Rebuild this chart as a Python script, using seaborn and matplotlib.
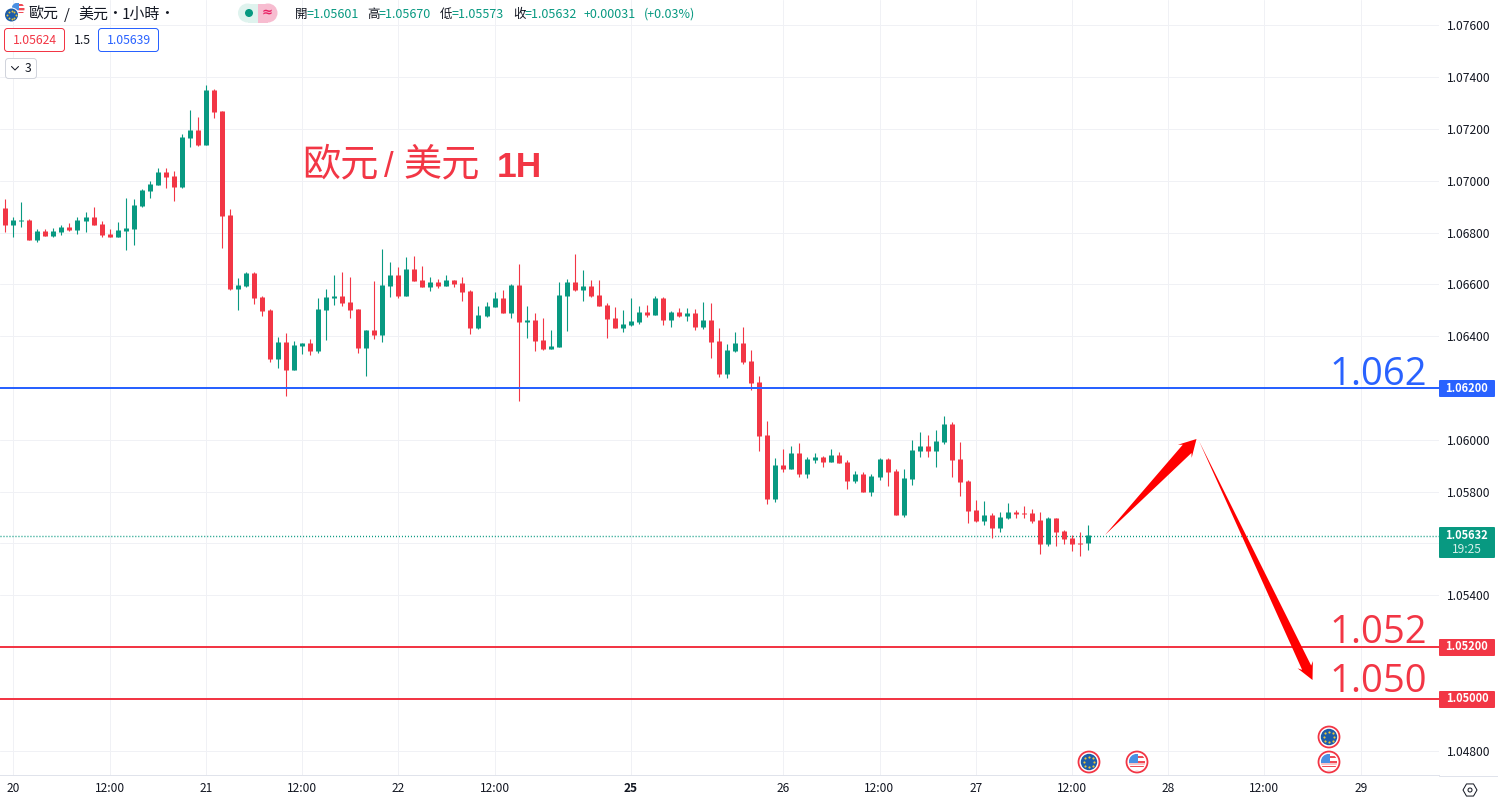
import numpy as np
import pandas as pd
import seaborn as sns
import matplotlib
matplotlib.use("Agg")
import matplotlib.pyplot as plt
from matplotlib.patches import Circle, FancyBboxPatch, Polygon, Rectangle, RegularPolygon

# ---------- data ----------
opens = [1.06893,1.06828,1.06843,1.06847,1.06770,1.06804,1.06785,1.06801,1.06820,1.06808,
1.06843,1.06858,1.06831,1.06793,1.06781,1.06804,1.06812,1.06901,1.06959,1.06982,
1.07032,1.07017,1.06974,1.07163,1.07194,1.07136,1.07348,1.07267,1.06866,1.06581,
1.06592,1.06644,1.06551,1.06501,1.06312,1.06377,1.06269,1.06362,1.06374,1.06343,
1.06501,1.06547,1.06555,1.06532,1.06505,1.06354,1.06424,1.06405,1.06594,1.06636,
1.06555,1.06659,1.06617,1.06590,1.06609,1.06594,1.06617,1.06605,1.06574,1.06431,
1.06478,1.06512,1.06547,1.06489,1.06597,1.06455,1.06462,1.06385,1.06350,1.06358,
1.06555,1.06609,1.06578,1.06594,1.06559,1.06520,1.06470,1.06431,1.06443,1.06455,
1.06493,1.06482,1.06547,1.06462,1.06493,1.06478,1.06489,1.06435,1.06462,1.06381,
1.06254,1.06343,1.06374,1.06304,1.06223,1.06019,1.05772,1.05903,1.05887,1.05949,
1.05868,1.05922,1.05934,1.05915,1.05942,1.05915,1.05841,1.05868,1.05799,1.05857,
1.05926,1.05880,1.05710,1.05849,1.05957,1.05976,1.05957,1.05992,1.06061,1.05926,
1.05841,1.05729,1.05687,1.05710,1.05660,1.05698,1.05722,1.05718,1.05718,1.05691,
1.05598,1.05698,1.05648,1.05621,1.05602,1.05601]
highs = [1.06928,1.06858,1.06916,1.06851,1.06812,1.06812,1.06816,1.06828,1.06835,1.06858,
1.06878,1.06897,1.06843,1.06812,1.06839,1.06932,1.06928,1.06966,1.06997,1.07047,
1.07047,1.07036,1.07179,1.07271,1.07244,1.07368,1.07352,1.07267,1.06889,1.06623,
1.06646,1.06648,1.06555,1.06505,1.06397,1.06412,1.06381,1.06374,1.06389,1.06547,
1.06582,1.06636,1.06648,1.06628,1.06505,1.06424,1.06613,1.06736,1.06686,1.06667,
1.06705,1.06709,1.06671,1.06628,1.06621,1.06636,1.06617,1.06628,1.06578,1.06516,
1.06532,1.06570,1.06578,1.06601,1.06678,1.06516,1.06489,1.06470,1.06424,1.06609,
1.06621,1.06717,1.06655,1.06617,1.06617,1.06528,1.06512,1.06501,1.06547,1.06516,
1.06520,1.06555,1.06551,1.06497,1.06509,1.06509,1.06505,1.06532,1.06528,1.06431,
1.06370,1.06416,1.06435,1.06347,1.06246,1.06073,1.05930,1.05965,1.05976,1.05988,
1.05934,1.05949,1.05938,1.05965,1.05953,1.05922,1.05880,1.05876,1.05868,1.05930,
1.05930,1.05887,1.05887,1.05999,1.06030,1.06019,1.06038,1.06092,1.06069,1.05992,
1.05845,1.05768,1.05764,1.05718,1.05722,1.05756,1.05729,1.05745,1.05733,1.05722,
1.05702,1.05698,1.05652,1.05633,1.05644,1.05670]
lows = [1.06801,1.06781,1.06820,1.06770,1.06762,1.06785,1.06781,1.06789,1.06804,1.06793,
1.06801,1.06828,1.06781,1.06781,1.06781,1.06731,1.06750,1.06897,1.06932,1.06982,
1.06970,1.06920,1.06970,1.07129,1.07132,1.07136,1.07240,1.06739,1.06577,1.06500,
1.06588,1.06524,1.06478,1.06300,1.06277,1.06169,1.06269,1.06331,1.06327,1.06335,
1.06385,1.06520,1.06516,1.06470,1.06335,1.06246,1.06389,1.06377,1.06551,1.06547,
1.06555,1.06613,1.06590,1.06574,1.06586,1.06594,1.06590,1.06536,1.06408,1.06428,
1.06474,1.06512,1.06489,1.06470,1.06150,1.06393,1.06343,1.06347,1.06350,1.06358,
1.06420,1.06574,1.06536,1.06551,1.06516,1.06393,1.06431,1.06416,1.06439,1.06447,
1.06474,1.06482,1.06443,1.06435,1.06474,1.06458,1.06424,1.06428,1.06316,1.06242,
1.06239,1.06339,1.06293,1.06192,1.05957,1.05752,1.05760,1.05876,1.05887,1.05857,
1.05853,1.05911,1.05895,1.05915,1.05911,1.05810,1.05834,1.05799,1.05783,1.05845,
1.05822,1.05710,1.05702,1.05826,1.05934,1.05934,1.05895,1.05984,1.05857,1.05783,
1.05679,1.05683,1.05671,1.05621,1.05644,1.05695,1.05698,1.05698,1.05679,1.05560,
1.05590,1.05590,1.05598,1.05571,1.05552,1.05573]
closes = [1.06828,1.06847,1.06847,1.06770,1.06804,1.06785,1.06804,1.06820,1.06808,1.06847,
1.06858,1.06828,1.06789,1.06781,1.06808,1.06816,1.06905,1.06963,1.06986,1.07032,
1.07013,1.06974,1.07167,1.07194,1.07136,1.07348,1.07264,1.06862,1.06581,1.06596,
1.06642,1.06547,1.06497,1.06312,1.06377,1.06269,1.06366,1.06374,1.06343,1.06505,
1.06551,1.06555,1.06528,1.06501,1.06354,1.06424,1.06405,1.06597,1.06636,1.06555,
1.06659,1.06613,1.06590,1.06609,1.06594,1.06617,1.06601,1.06570,1.06431,1.06482,
1.06516,1.06547,1.06489,1.06597,1.06455,1.06462,1.06381,1.06350,1.06362,1.06559,
1.06609,1.06578,1.06594,1.06555,1.06516,1.06466,1.06431,1.06447,1.06458,1.06493,
1.06482,1.06547,1.06462,1.06493,1.06478,1.06489,1.06435,1.06462,1.06377,1.06254,
1.06347,1.06374,1.06300,1.06219,1.06015,1.05772,1.05903,1.05887,1.05949,1.05868,
1.05926,1.05934,1.05915,1.05942,1.05911,1.05841,1.05868,1.05799,1.05860,1.05926,
1.05876,1.05710,1.05853,1.05961,1.05976,1.05957,1.05996,1.06061,1.05922,1.05837,
1.05725,1.05687,1.05710,1.05660,1.05702,1.05722,1.05714,1.05714,1.05687,1.05598,
1.05698,1.05644,1.05617,1.05598,1.05598,1.05632]

price_ticks = [1.048,1.050,1.052,1.054,1.056,1.058,1.060,1.062,1.064,1.066,1.068,1.070,1.072,1.074,1.076]
tagged_ticks = [1.050, 1.052, 1.056, 1.062]
time_tick_pos = [1,13,25,37,49,61,78,97,109,121,133,145,157,169]
time_tick_lab = ["20","12:00","21","12:00","22","12:00","25","26","12:00","27","12:00","28","12:00","29"]
level_blue = [1.062]
levels_red = [1.052, 1.050]
last_price = 1.05632

GREEN, RED, BLUE = "#089981", "#F23645", "#2962FF"
TXT, GRID = "#131722", "#f0f1f5"
CJK = ["Noto Sans CJK TC", "DejaVu Sans"]

sns.set_theme(style="white")
plt.rcParams["font.family"] = CJK

W, H = 1498, 802
PX = 0.72
fig = plt.figure(figsize=(W/100, H/100), dpi=100, facecolor="white")
ax = fig.add_axes([0, (H-775)/H, 1439/W, 775/H])

n = len(opens)
idx = np.arange(n)
direction = ["up" if c >= o else "down" for o, c in zip(opens, closes)]
wicks = pd.DataFrame({"candle": np.r_[idx, idx], "price": highs + lows, "dir": direction*2, "x": np.r_[idx, idx]})
bodies = pd.DataFrame({"candle": np.r_[idx, idx], "price": opens + closes, "dir": direction*2, "x": np.r_[idx, idx]})
pal = {"up": GREEN, "down": RED}
sns.lineplot(data=wicks, x="x", y="price", hue="dir", units="candle", estimator=None, sort=False,
             palette=pal, linewidth=1.1*PX, solid_capstyle="butt", legend=False, ax=ax, zorder=3)
sns.lineplot(data=bodies, x="x", y="price", hue="dir", units="candle", estimator=None, sort=False,
             palette=pal, linewidth=5*PX, solid_capstyle="butt", legend=False, ax=ax, zorder=4)

for v in level_blue:
    ax.axhline(v, color=BLUE, lw=2*PX, zorder=5)
for v in levels_red:
    ax.axhline(v, color=RED, lw=2*PX, zorder=5)
ax.axhline(last_price-0.00002, color=GREEN, lw=1.4*PX, ls=(0, (0.72, 1.42)), zorder=2)

ax.set_xlim(-0.661, 178.76)
ax.set_ylim(1.062-387/51.83*0.002, 1.062+388/51.83*0.002)
ax.set_xticks(time_tick_pos, time_tick_lab)
ax.set_yticks(price_ticks, ["" if p in tagged_ticks else f"{p:.5f}" for p in price_ticks])
ax.yaxis.tick_right()
ax.tick_params(axis="x", length=0, pad=4.8, labelsize=8.6, labelcolor=TXT)
ax.tick_params(axis="y", length=0, pad=5.5, labelsize=8.7, labelcolor=TXT)
for t in ax.get_xticklabels():
    if t.get_text() == "25":
        t.set_fontweight("bold")
ax.grid(True, color=GRID, lw=1*PX, zorder=0)
ax.set_axisbelow(True)
ax.set_xlabel(""); ax.set_ylabel("")
for s in ["top", "left", "right"]:
    ax.spines[s].set_visible(False)
ax.spines["bottom"].set_color("#e0e3eb")
ax.spines["bottom"].set_linewidth(1*PX)

# ---------- overlay in pixel coordinates ----------
ov = fig.add_axes([0, 0, 1, 1], zorder=10)
ov.set_xlim(0, W); ov.set_ylim(H, 0); ov.axis("off")
ov.plot([1439, W], [775.5, 775.5], color="#e0e3eb", lw=1*PX)

def txt(x, y, s, size=9, color=TXT, ha="left", va="center", weight="normal", fam=None, **k):
    return ov.text(x, y, s, fontsize=size, color=color, ha=ha, va=va, fontweight=weight,
                   family=fam if fam else CJK, **k)

def box(x0, y0, x1, y1, fc="none", ec="none", lw=1, r=3):
    p = FancyBboxPatch((x0+r, y0+r), x1-x0-2*r, y1-y0-2*r, boxstyle=f"round,pad={r},rounding_size={r}",
                       fc=fc, ec=ec, lw=lw*PX, mutation_aspect=1)
    ov.add_patch(p)
    return p

def arrow(tail, tip, head_len, head_w, neck_w):
    tail, tip = np.array(tail, float), np.array(tip, float)
    u = (tip-tail)/np.hypot(*(tip-tail))
    nrm = np.array([-u[1], u[0]])
    neck = tip-u*head_len*0.8
    wing = tip-u*head_len
    pts = [tail, neck+nrm*neck_w/2, wing+nrm*head_w/2, tip, wing-nrm*head_w/2, neck-nrm*neck_w/2]
    ov.add_patch(Polygon(pts, closed=True, fc="#FF0000", ec="none", zorder=6))

arrow((1105, 535), (1196.5, 439), 17, 19, 12)
arrow((1199, 441), (1312.5, 680), 17, 17, 10)

# big annotations
BIG = ["Open Sans", "DejaVu Sans"]
txt(1329, 385, "1.062", size=27.5, color=BLUE, va="baseline", fam=BIG)
txt(1329, 643, "1.052", size=27.5, color=RED, va="baseline", fam=BIG)
txt(1329, 692, "1.050", size=27.5, color=RED, va="baseline", fam=BIG)
SC = ["Noto Sans CJK SC", "DejaVu Sans"]
txt(302, 175, "欧元", size=27.5, color=RED, va="baseline", weight="light", fam=SC)
txt(384, 177, "/", size=25, color=RED, va="baseline", fam=["Liberation Sans"])
txt(403, 175, "美元", size=27.5, color=RED, va="baseline", weight="light", fam=SC)
txt(497, 177, "1H", size=25.5, color=RED, va="baseline", weight="bold", fam=["Liberation Sans"])

# right price tags
for p, col, y0 in [("1.06200", BLUE, 380), ("1.05200", RED, 639), ("1.05000", RED, 691)]:
    box(1439, y0, 1495, y0+17, fc=col, r=1)
    txt(1467, y0+8, p, size=8, color="white", ha="center", weight="bold")
box(1439, 527, 1495, 558, fc=GREEN, r=1)
txt(1467, 535.5, "1.05632", size=8, color="white", ha="center", weight="bold")
txt(1467, 549.5, "19:25", size=8.6, color="#d5efe9", ha="center")

# settings icon
ov.add_patch(RegularPolygon((1470, 790), 6, radius=7, orientation=np.pi/6, fc="none", ec=TXT, lw=1*PX))
ov.add_patch(Circle((1470, 790), 2, fc="none", ec=TXT, lw=1*PX))

# header
def flag_us(cx, cy, r, z=8):
    c = Circle((cx, cy), r, fc="white", ec="none", zorder=z); ov.add_patch(c)
    for k, col in enumerate(["#f04a55", "#f9c4c8", "#f04a55", "white", "#f04a55"]):
        s = Rectangle((cx-r, cy-0.1*r+k*0.28*r), 2*r, 0.2*r, fc=col, ec="none", zorder=z+.1)
        ov.add_patch(s); s.set_clip_path(c)
    s = Rectangle((cx-r, cy-r), 1.15*r, 1.1*r, fc="#4a90e2", ec="none", zorder=z+.2)
    ov.add_patch(s); s.set_clip_path(c)
    s = Rectangle((cx+.15*r, cy-.75*r), r, .3*r, fc="#f04a55", ec="none", zorder=z+.1)
    ov.add_patch(s); s.set_clip_path(c)

def flag_eu(cx, cy, r, z=8):
    ov.add_patch(Circle((cx, cy), r, fc="#1d5ca8", ec="none", zorder=z))
    a = np.linspace(0, 2*np.pi, 8, endpoint=False)
    ov.scatter(cx+0.62*r*np.cos(a), cy+0.62*r*np.sin(a), s=max(1.2, r*0.3), color="#e8c53a", lw=0, zorder=z+.1)

def ring(cx, cy, kind):
    ov.add_patch(Circle((cx, cy), 10.5, fc="white", ec=RED, lw=1.8*PX, zorder=7))
    (flag_eu if kind == "eu" else flag_us)(cx, cy, 8.2)

for cx, cy, kind in [(1089, 762, "eu"), (1137, 762, "us"), (1329, 737, "eu"), (1329, 762, "us")]:
    ring(cx, cy, kind)

flag_us(18, 9, 6.5, z=8)
ov.add_patch(Circle((11.5, 15), 7.5, fc="white", ec="none", zorder=8.5))
flag_eu(11.5, 15, 6.5, z=8.6)

HY = 14.5
txt(28, HY, "歐元", size=10.8)
txt(64, HY, "/", size=10.8)
txt(78, HY, "美元", size=10.8)
txt(107, HY, "·", size=10.8)
txt(122, HY, "1小時", size=10.8)
txt(159, HY, "·", size=10.8)

ov.add_patch(Circle((247.5, 13), 9.5, fc="#dff3ee", ec="none"))
ov.add_patch(Circle((268, 13), 9.5, fc="#f7bcd0", ec="none"))
ov.add_patch(Rectangle((258, 3.5), 10, 19, fc="#f7bcd0", ec="none"))
ov.add_patch(Rectangle((247.5, 3.5), 10.5, 19, fc="#dff3ee", ec="none"))
ov.add_patch(Circle((249, 13), 4, fc=GREEN, ec="none"))
txt(267.5, 12.5, "≈", size=9.5, color="#e91e63", ha="center", weight="bold", fam=["DejaVu Sans"])

for x, s, col in [(295, "開", TXT), (307, "=1.05601", GREEN), (367, "高", TXT), (379, "=1.05670", GREEN),
                  (440, "低", TXT), (452, "=1.05573", GREEN), (513, "收", TXT), (525, "=1.05632", GREEN),
                  (584, "+0.00031", GREEN), (644, "(+0.03%)", GREEN)]:
    txt(x, HY, s, size=9, color=col)

box(4.5, 28.5, 64.5, 51.5, fc="white", ec=RED, lw=1, r=3)
txt(34.5, 40, "1.05624", size=8.8, color=RED, ha="center")
txt(82, 40, "1.5", size=8.8, ha="center")
box(98.5, 28.5, 158.5, 51.5, fc="white", ec=BLUE, lw=1, r=3)
txt(128.5, 40, "1.05639", size=8.8, color=BLUE, ha="center")
box(5.5, 58.5, 36.5, 78.5, fc="white", ec="#d1d4dc", lw=1, r=3)
ov.plot([11.5, 15, 18.5], [66.5, 70, 66.5], color=TXT, lw=1*PX)
txt(28, 68.5, "3", size=8.8, ha="center")

fig.savefig("out.png", dpi=100, facecolor="white")
